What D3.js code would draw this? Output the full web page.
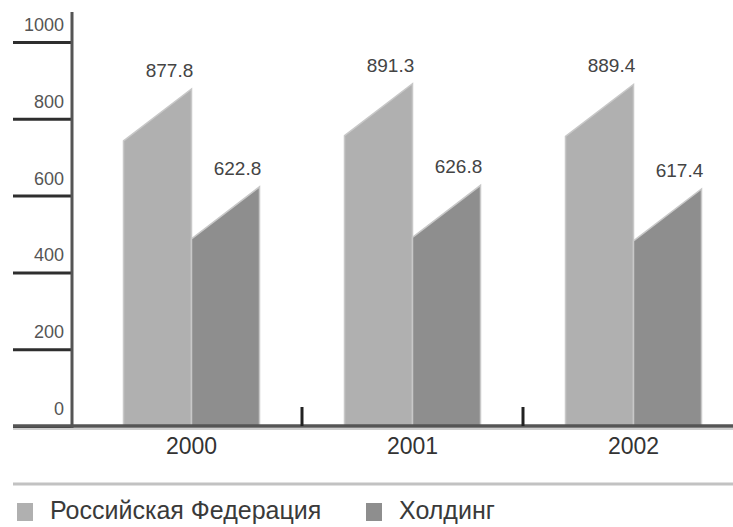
<!DOCTYPE html>
<html>
<head>
<meta charset="utf-8">
<script src="https://cdn.jsdelivr.net/npm/d3@7/dist/d3.min.js"></script>
<style>
  html, body { margin: 0; padding: 0; background: #fff; }
  svg { display: block; font-family: "Liberation Sans", Arial, sans-serif; }
</style>
</head>
<body>
<svg id="chart" width="733" height="527"></svg>
<script>
// Years on the category axis
const years = ["2000", "2001", "2002"];
// Series names (legend order)
const seriesNames = ["Российская Федерация", "Холдинг"];
// Values per year
const russiaValues = [877.8, 891.3, 889.4];
const holdingValues = [622.8, 626.8, 617.4];
// Value-axis ticks
const yTicks = [0, 200, 400, 600, 800, 1000];

const seriesColors = ["#b0b0b0", "#8e8e8e"];
const seriesValues = [russiaValues, holdingValues];

const svg = d3.select("#chart");

const y = d3.scaleLinear().domain([0, 1000]).range([426, 42]);
const x = d3.scaleBand().domain(years).range([81, 744]).padding(0);
const barW = 68;
const inner = d3.scaleBand().domain(seriesNames).range([0, 2 * barW]).padding(0);
const slant = 52; // drop of the bevelled top edge, left side

// y axis ticks (long marks to the left of the axis line)
const yAxisX = 72;
const yAxis = d3.axisLeft(y).tickValues(yTicks).tickSize(59).tickFormat("");
const gy = svg.append("g").attr("transform", `translate(${yAxisX},0)`).call(yAxis);
gy.select(".domain").remove();
gy.selectAll(".tick line").attr("stroke", "#2e2e2e").attr("stroke-width", 3);

// tick labels sit above their marks
svg.append("g").selectAll("text").data(yTicks).join("text")
  .attr("x", 64)
  .attr("y", d => y(d) - 11)
  .attr("text-anchor", "end")
  .attr("font-size", 18)
  .attr("fill", "#555")
  .text(d => d);

// bars with a bevelled top: right corner at the value
const groups = svg.append("g").selectAll("g").data(years).join("g");
seriesNames.forEach((name, si) => {
  groups.append("path")
    .attr("d", (yr, i) => {
      const x0 = x(yr) + x.bandwidth() / 2 - barW + inner(name);
      const x1 = x0 + inner.bandwidth();
      const top = y(seriesValues[si][i]);
      return `M${x0},${y(0)}V${top + slant}L${x1},${top}V${y(0)}Z`;
    })
    .attr("fill", seriesColors[si])
    .attr("stroke", "#c8c8c8")
    .attr("stroke-width", 1.5);
  groups.append("text")
    .attr("x", (yr) => x(yr) + x.bandwidth() / 2 - barW + inner(name) + inner.bandwidth() - 22)
    .attr("y", (yr, i) => y(seriesValues[si][i]) - 12)
    .attr("text-anchor", "middle")
    .attr("font-size", 19)
    .attr("fill", "#444")
    .text((yr, i) => seriesValues[si][i]);
});

// y axis line
svg.append("line")
  .attr("x1", yAxisX).attr("x2", yAxisX)
  .attr("y1", 12).attr("y2", 428)
  .attr("stroke", "#555").attr("stroke-width", 3);

// x axis: base line, separators between years, year labels
const xAxis = d3.axisBottom(x).tickSize(0).tickPadding(12);
const gx = svg.append("g").attr("transform", `translate(0,${y(0)})`).call(xAxis);
gx.select(".domain").remove();
gx.selectAll(".tick text")
  .attr("font-size", 23).attr("fill", "#333")
  .attr("font-family", "'Liberation Sans', Arial, sans-serif");

svg.append("line")
  .attr("x1", 13).attr("x2", 733)
  .attr("y1", 429).attr("y2", 429)
  .attr("stroke", "#cfcfcf").attr("stroke-width", 2);
svg.append("line")
  .attr("x1", 13).attr("x2", 733)
  .attr("y1", y(0)).attr("y2", y(0))
  .attr("stroke", "#555").attr("stroke-width", 3.5);

svg.append("g").selectAll("line").data(years.slice(1)).join("line")
  .attr("x1", d => x(d)).attr("x2", d => x(d))
  .attr("y1", y(0) - 19).attr("y2", y(0))
  .attr("stroke", "#222").attr("stroke-width", 3);

// legend
svg.append("line")
  .attr("x1", 13).attr("x2", 733)
  .attr("y1", 484).attr("y2", 484)
  .attr("stroke", "#c2c2c2").attr("stroke-width", 3);

const legendX = [17, 366];
const legend = svg.append("g").selectAll("g").data(seriesNames).join("g")
  .attr("transform", (d, i) => `translate(${legendX[i]},503)`);
legend.append("rect")
  .attr("width", 16).attr("height", 18)
  .attr("fill", (d, i) => seriesColors[i]);
legend.append("text")
  .attr("x", 33).attr("y", 16)
  .attr("font-size", 25)
  .attr("fill", "#3a3a3a")
  .text(d => d);
</script>
</body>
</html>
